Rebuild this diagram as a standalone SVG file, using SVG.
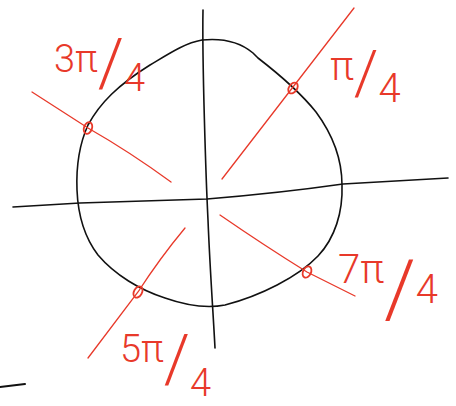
<svg xmlns="http://www.w3.org/2000/svg" width="456" height="406" viewBox="0 0 456 406">
<style>
.ink{fill:none;stroke:#111;stroke-width:1.6;stroke-linecap:round;stroke-linejoin:round}
.red{fill:none;stroke:#e8392a;stroke-width:1.3;stroke-linecap:round}
.pt{fill:none;stroke:#e8392a;stroke-width:1.8}
.lbl{fill:#e8392a;font-family:Roboto,"Open Sans","Liberation Sans",sans-serif;font-weight:300}
</style>
<rect width="456" height="406" fill="#fff"/>
<g id="axes">
<path class="ink" d="M13,207 L80,203 L207,199 Q280,193 343,184 L448,178"/>
<path class="ink" d="M203,10 C202,60 206,180 208,220 C210,270 213,310 215,348"/>
<path class="ink" d="M0,387 L25,384" style="stroke-width:2"/>
</g>
<g id="circle">
<path class="ink" d="M202,40 C222,38 240,42 253,53 L258,58 C280,75 300,92 316,112 C333,135 342,158 342,185 C343,212 335,238 318,256 C298,277 260,296 225,305 C205,309 185,305 165,298 C140,290 115,275 98,255 C85,238 78,215 77,190 C76,165 79,145 88,125 C100,103 118,85 150,65 C170,53 185,43 202,40 Z"/>
</g>
<g id="connectors">
<path class="red" d="M222,179 L354,8"/>
<path class="red" d="M32,92 L88,128 Q130,152 171,182"/>
<path class="red" d="M220,215 Q265,246 307,272 L355,296"/>
<path class="red" d="M185,228 Q160,258 138,292 L88,358"/>
</g>
<g id="p1"><ellipse class="pt" cx="293" cy="88" rx="4" ry="6" transform="rotate(35 293 88)"/>
<text class="lbl" x="330" y="80" font-size="40">π<tspan font-size="62" dy="14">/</tspan><tspan dy="8">4</tspan></text></g>
<g id="p3"><ellipse class="pt" cx="88" cy="128" rx="4" ry="6" transform="rotate(20 88 128)"/>
<text class="lbl" x="54" y="72" font-size="38">3π<tspan font-size="66" dy="14">/</tspan><tspan dy="5">4</tspan></text></g>
<g id="p5"><ellipse class="pt" cx="138" cy="292" rx="4" ry="6" transform="rotate(30 138 292)"/>
<text class="lbl" x="120" y="362" font-size="38">5π<tspan font-size="66" dy="20">/</tspan><tspan dy="14">4</tspan></text></g>
<g id="p7"><ellipse class="pt" cx="307" cy="272" rx="4" ry="6" transform="rotate(25 307 272)"/>
<text class="lbl" x="338" y="283" font-size="40">7π<tspan font-size="80" dy="33">/</tspan><tspan dy="-13">4</tspan></text></g>
</svg>
